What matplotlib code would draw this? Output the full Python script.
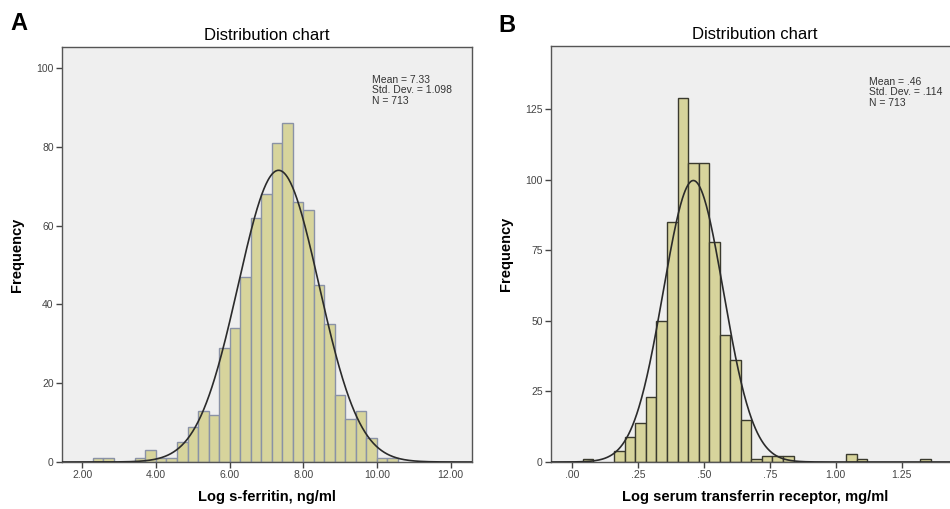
import matplotlib.pyplot as plt
import numpy as np

plt.rcParams['font.family'] = ['Liberation Sans', 'DejaVu Sans']

# panel A: log s-ferritin histogram
ferritin_start = 2 + 2 / 7
ferritin_width = 2 / 7
ferritin_counts = [1, 1, 0, 0, 1, 3, 1, 1, 5, 9, 13, 12, 29, 34, 47, 62, 68, 81,
                   86, 66, 64, 45, 35, 17, 11, 13, 6, 1, 1]
ferritin_mean = 7.33
ferritin_sd = 1.098
ferritin_ticks = [2, 4, 6, 8, 10, 12]
ferritin_ticklabels = ['2.00', '4.00', '6.00', '8.00', '10.00', '12.00']
ferritin_yticks = [0, 20, 40, 60, 80, 100]

# panel B: log serum transferrin receptor histogram
tfr_start = 0.04
tfr_width = 0.04
tfr_counts = [1, 0, 0, 4, 9, 14, 23, 50, 85, 129, 106, 106, 78, 45, 36, 15, 1, 2,
              2, 2, 0, 0, 0, 0, 0, 3, 1, 0, 0, 0, 0, 0, 1]
tfr_mean = 0.46
tfr_sd = 0.114
tfr_ticks = [0, 0.25, 0.5, 0.75, 1.0, 1.25]
tfr_ticklabels = ['.00', '.25', '.50', '.75', '1.00', '1.25']
tfr_yticks = [0, 25, 50, 75, 100, 125]

n_total = 713
bar_fill = '#d7d49c'
bg = '#efefef'


def draw_panel(ax, start, width, counts, mean, sd, edge, xlim, ylim,
               xticks, xticklabels, yticks, xlabel, stats, stats_xy):
    counts = np.array(counts)
    lefts = start + width * np.arange(len(counts))
    keep = counts > 0
    ax.bar(lefts[keep], counts[keep], width=width, align='edge',
           color=bar_fill, edgecolor=edge, linewidth=1.0, zorder=2)
    xs = np.linspace(xlim[0], xlim[1], 600)
    ys = n_total * width * np.exp(-0.5 * ((xs - mean) / sd) ** 2) / (sd * np.sqrt(2 * np.pi))
    ax.plot(xs, ys, color='#2b2b2b', linewidth=1.2, zorder=3)
    ax.set_xlim(*xlim)
    ax.set_ylim(*ylim)
    ax.set_facecolor(bg)
    for s in ax.spines.values():
        s.set_color('#555555')
        s.set_linewidth(1.0)
    ax.set_xticks(xticks)
    ax.set_xticklabels(xticklabels)
    ax.set_yticks(yticks)
    ax.tick_params(direction='out', length=4, width=1, color='#444444',
                   labelsize=7.5, labelcolor='#444444', pad=2)
    ax.set_xlabel(xlabel, fontsize=10.5, fontweight='bold', labelpad=7)
    ax.set_ylabel('Frequency', fontsize=10.5, fontweight='bold', labelpad=9)
    ax.set_title('Distribution chart', fontsize=12, pad=5)
    ax.text(stats_xy[0], stats_xy[1], stats, transform=ax.transAxes, fontsize=7.5,
            color='#333333', va='top', ha='left', linespacing=1.05)


fig = plt.figure(figsize=(9.5, 5.09), dpi=100)
fig.patch.set_facecolor('white')

axA = fig.add_axes([62 / 950, 47 / 509, 410 / 950, 415 / 509])
draw_panel(axA, ferritin_start, ferritin_width, ferritin_counts,
           ferritin_mean, ferritin_sd, '#8a92a6', (1.45, 12.58), (0, 105.3),
           ferritin_ticks, ferritin_ticklabels, ferritin_yticks,
           'Log s-ferritin, ng/ml',
           'Mean = 7.33\nStd. Dev. = 1.098\nN = 713',
           ((372 - 62) / 410, (462 - 75) / 415))

axB = fig.add_axes([551 / 950, 47 / 509, 408 / 950, 416 / 509])
draw_panel(axB, tfr_start, tfr_width, tfr_counts,
           tfr_mean, tfr_sd, '#3a3a2e', (-0.0795, 1.467), (0, 147.5),
           tfr_ticks, tfr_ticklabels, tfr_yticks,
           'Log serum transferrin receptor, mg/ml',
           'Mean = .46\nStd. Dev. = .114\nN = 713',
           ((869 - 551) / 408, (462 - 77) / 416))

fig.text(10 / 950, 1 - 24 / 509, 'A', fontsize=17, fontweight='bold', va='center')
fig.text(498 / 950, 1 - 25 / 509, 'B', fontsize=17, fontweight='bold', va='center')

fig.savefig('out.png', dpi=100)
